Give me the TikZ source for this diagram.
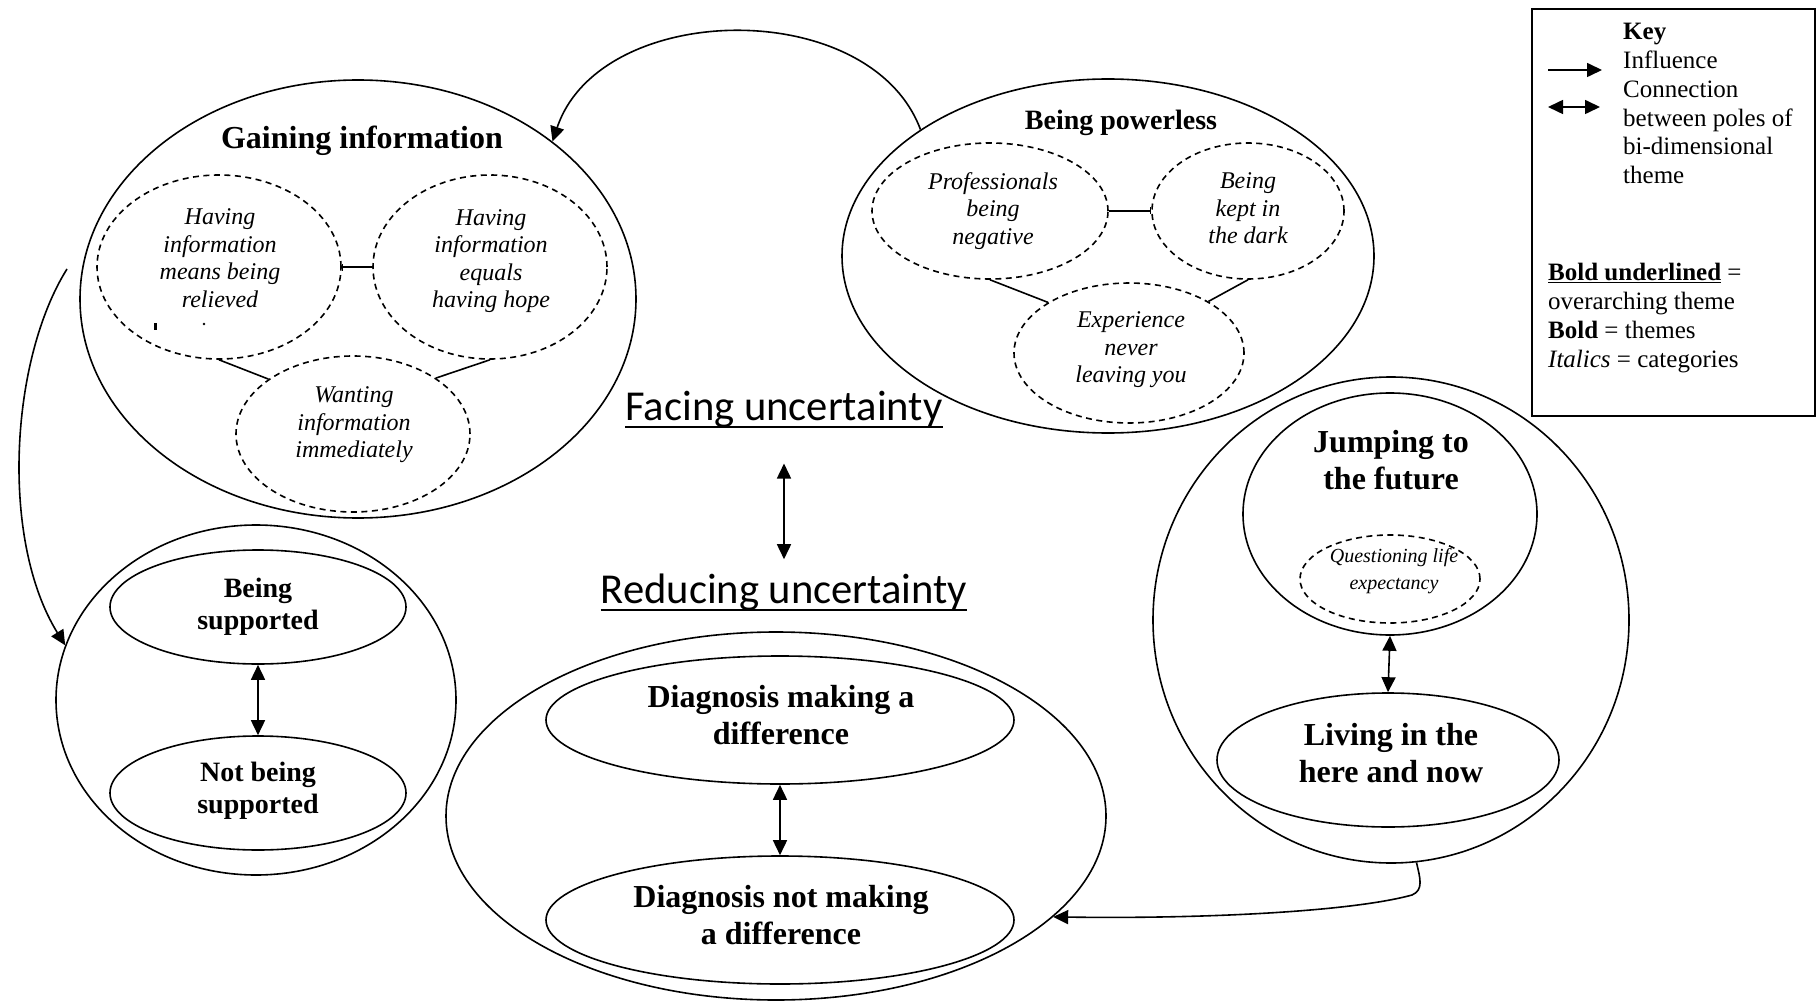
\documentclass[tikz,border=0pt]{standalone}
\usepackage{fontspec}
\setmainfont{Liberation Serif}
\newfontfamily\carl{Carlito}
\usetikzlibrary{shapes.geometric,arrows.meta}
\begin{document}
\begin{tikzpicture}[x=1pt,y=-1pt,
  oval/.style={draw, ellipse, line width=1.6pt, inner sep=0pt},
  doval/.style={oval, dash pattern=on 6pt off 4.5pt},
  lbl/.style={align=center, inner sep=0pt},
  bfa/.style={lbl, font={\bfseries\fontsize{32}{37}\selectfont}},
  bfb/.style={lbl, font={\bfseries\fontsize{28}{32.5}\selectfont}},
  itl/.style={lbl, font={\itshape\fontsize{24}{27.5}\selectfont}},
  itq/.style={lbl, font={\itshape\fontsize{20}{27}\selectfont}},
  keytxt/.style={anchor=base west, inner sep=0pt, font={\fontsize{25}{28.8}\selectfont}},
  bigtxt/.style={anchor=base, inner sep=0pt, font={\carl\fontsize{42.6}{50}\selectfont}},
  conn/.style={line width=1.6pt},
  arr/.style={conn, -{Triangle[length=15pt,width=14pt]}},
  dbl/.style={conn, {Triangle[length=15pt,width=14pt]}-{Triangle[length=15pt,width=14pt]}}
]
\useasboundingbox (0,0) rectangle (1818,1003);

% ---------- Gaining information ----------
\node[oval, minimum width=556, minimum height=438] (gain) at (358,299) {};
\node[bfa, anchor=base] (tgain) at (362,149) {Gaining information};
\node[doval, minimum width=244, minimum height=184] (d1) at (219,267) {};
\node[doval, minimum width=234, minimum height=184] (d2) at (490,267) {};
\node[doval, minimum width=234, minimum height=156] (d3) at (353,434) {};
\node[itl] (t1) at (220,258) {Having\\information\\means being\\relieved};
\node[itl] (t2) at (491,261) {Having\\information\\equals\\having hope};
\node[itl] (t3) at (354,425) {Wanting\\information\\immediately};
\draw[conn, {Bar[width=7pt]}-] (d1.east) -- (d2.west);
\draw[conn] (d1.south) -- (d3.147);
\draw[conn] (d2.south) -- (d3.34);
\fill (154,323) rectangle (156.5,330);
\fill (204,324) circle (1.3);

% ---------- Being powerless ----------
\node[oval, minimum width=532, minimum height=354] (pow) at (1108,256) {};
\node[bfb, anchor=base] (tpow) at (1121,130) {Being powerless};
\node[doval, minimum width=236, minimum height=136] (p1) at (990,211) {};
\node[doval, minimum width=192, minimum height=136] (p2) at (1248,211) {};
\node[doval, minimum width=230, minimum height=140] (p3) at (1129,353) {};
\node[itl] (tp1) at (993,211) {Professionals\\being\\negative};
\node[itl] (tp2) at (1248,208.5) {Being\\kept in\\the dark};
\node[itl] (tp3) at (1131,350) {Experience\\never\\leaving you};
\draw[conn, -{Bar[width=7pt]}] (p1.east) -- (p2.west);
\draw[conn] (p1.south) -- (p3.148);
\draw[conn] (p2.south) -- (p3.33);

% ---------- Support ----------
\node[oval, minimum width=400, minimum height=350] (sup) at (256,700) {};
\node[oval, minimum width=296, minimum height=114] (s1) at (258,607) {};
\node[oval, minimum width=296, minimum height=114] (s2) at (258,793) {};
\node[bfb] (ts1) at (258,607) {Being\\supported};
\node[bfb] (ts2) at (258,791) {Not being\\supported};
\draw[dbl] (s1.south) -- (s2.north);

% ---------- Overarching theme ----------
\node[bigtxt] (facing) at (784,420) {Facing uncertainty};
\node[bigtxt] (reducing) at (784,603) {Reducing uncertainty};
\draw[line width=2.5pt] ([yshift=-7pt]facing.base west) -- ([yshift=-7pt]facing.base east);
\draw[line width=2.5pt] ([yshift=-7pt]reducing.base west) -- ([yshift=-7pt]reducing.base east);
\draw[dbl, shorten <=36pt, shorten >=14pt] (facing.south) -- (reducing.north);

% ---------- Diagnosis ----------
\node[oval, minimum width=660, minimum height=368] (diag) at (776,816) {};
\node[oval, minimum width=468, minimum height=128] (dg1) at (780,720) {};
\node[oval, minimum width=468, minimum height=128] (dg2) at (780,920) {};
\node[bfa] (tdg1) at (781,715) {Diagnosis making a\\difference};
\node[bfa] (tdg2) at (781,915) {Diagnosis not making\\a difference};
\draw[dbl] (dg1.south) -- (dg2.north);

% ---------- Future / here and now ----------
\node[oval, minimum width=476, minimum height=486] (rout) at (1391,620) {};
\node[oval, minimum width=294, minimum height=242] (jump) at (1390,514) {};
\node[bfa] (tjump) at (1391,460) {Jumping to\\the future};
\node[itq] (tq) at (1394,571) {Questioning life\\expectancy};
\node[doval, minimum width=180, minimum height=88] (q) at (1390,579) {};
\node[oval, minimum width=342, minimum height=134] (live) at (1388,760) {};
\node[bfa] (tlive) at (1391,753.5) {Living in the\\here and now};
\draw[dbl] (jump.south) -- (live.north);

% ---------- Influence arrows ----------
\draw[arr] (pow.146) .. controls (870,-5) and (600,0) .. (gain.39);
\coordinate (lstart) at (67,269);
\draw[arr] (lstart) .. controls (10,360) and (0,540) .. (sup.164);
\draw[arr] (rout.276) .. controls (1420,878) and (1424,890) .. (1412,895)
  .. controls (1350,912) and (1200,919) .. (diag.340);

% ---------- Key ----------
\node[draw, line width=1.6pt, minimum width=283, minimum height=407, inner sep=0pt] (keybox) at (1673.5,212.5) {};
\node[keytxt] (k1) at (1623,40) {\textbf{Key}};
\node[keytxt] (k2) at (1623,69) {Influence};
\node[keytxt] (k3) at (1623,98) {Connection};
\node[keytxt] (k4) at (1623,126.5) {between poles of};
\node[keytxt] (k5) at (1623,155) {bi-dimensional};
\node[keytxt] (k6) at (1623,184) {theme};
\node[keytxt] (k7) at (1548,280) {\textbf{\underline{Bold underlined}} =};
\node[keytxt] (k8) at (1548,309) {overarching theme};
\node[keytxt] (k9) at (1548,338) {\textbf{Bold} = themes};
\node[keytxt] (k10) at (1548,367) {\textit{Italics} = categories};
\coordinate (ki1) at (1548,70);
\coordinate (ki2) at (1602,70);
\coordinate (kc1) at (1548,107);
\coordinate (kc2) at (1600,107);
\draw[arr] (ki1) -- (ki2);
\draw[dbl] (kc1) -- (kc2);
\end{tikzpicture}
\end{document}
